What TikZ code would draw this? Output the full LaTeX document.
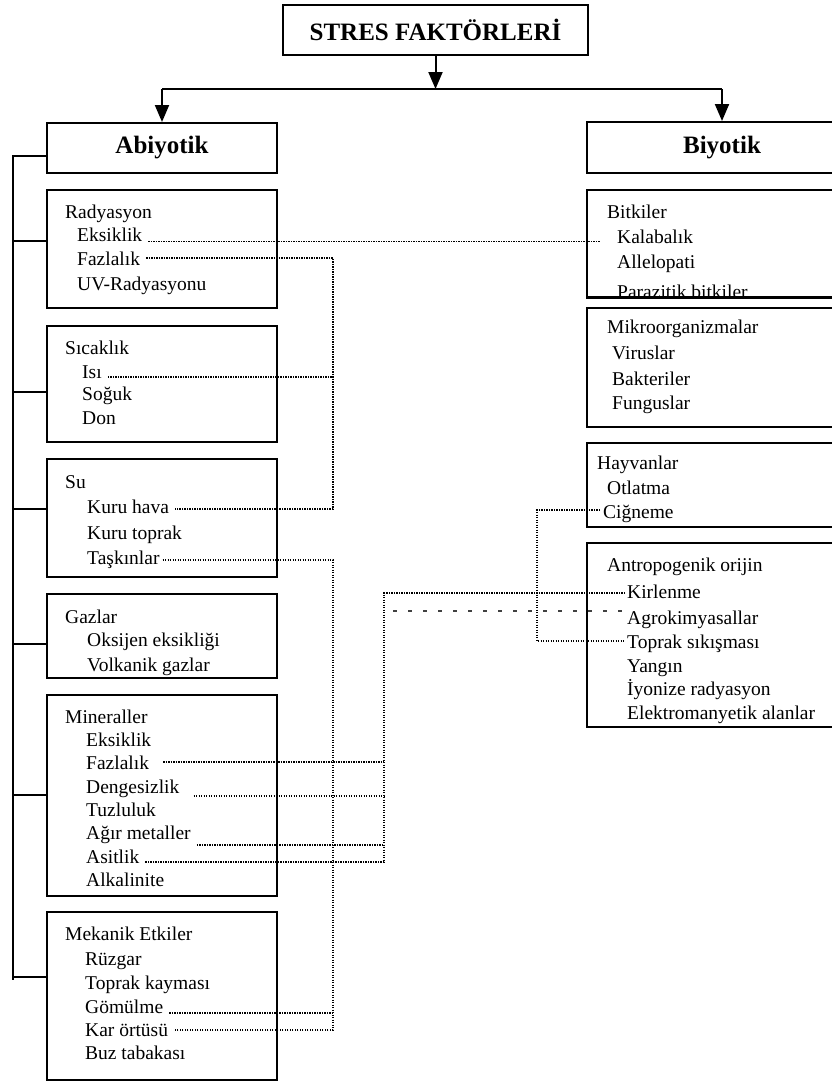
\documentclass[tikz,border=0pt]{standalone}
\usepackage{fontspec}
\setmainfont{Liberation Serif}
\usetikzlibrary{arrows.meta,calc}
\begin{document}
\begin{tikzpicture}[x=1pt,y=-1pt,
 box/.style={draw, line width=2pt, inner sep=0pt},
 txt/.style={anchor=base west, inner sep=0pt, font=\fontsize{19.5}{22}\selectfont},
 head/.style={font=\bfseries\fontsize{25}{30}\selectfont},
 dotl/.style={line width=1.5pt, dash pattern=on 1.3pt off 1.2pt},
 dashl/.style={line width=1.2pt, black!75, dash pattern=on 4pt off 11pt},
 conn/.style={line width=2pt},
 arr/.style={conn, -{Triangle[length=17pt,width=14pt]}}
]
\useasboundingbox (0,0) rectangle (832,1081);
\clip (0,0) rectangle (832,1081);
\fill[white] (0,0) rectangle (832,1081);

% head boxes
\node[box, head, minimum width=305pt, minimum height=50pt] (t) at (435.5,30) {STRES FAKTÖRLERİ};
\node[box, head, minimum width=230pt, minimum height=50pt] (a) at (162,148) {Abiyotik};
\node[box, head, minimum width=270pt, minimum height=51pt] (b) at (722,147.5) {Biyotik};

% left boxes
\node[box, minimum width=230pt, minimum height=118pt] (rad) at (162,249) {};
\node[box, minimum width=230pt, minimum height=116pt] (sic) at (162,384) {};
\node[box, minimum width=230pt, minimum height=118pt] (su) at (162,518) {};
\node[box, minimum width=230pt, minimum height=84pt] (gaz) at (162,636) {};
\node[box, minimum width=230pt, minimum height=201pt] (min) at (162,795.5) {};
\node[box, minimum width=230pt, minimum height=168pt] (mek) at (162,996) {};

% right boxes
\node[box, minimum width=270pt, minimum height=107pt] (bit) at (722,243.5) {};
\node[box, minimum width=270pt, minimum height=119pt] (mik) at (722,367.5) {};
\node[box, minimum width=270pt, minimum height=84pt] (hay) at (722,485) {};
\node[box, minimum width=270pt, minimum height=184pt] (ant) at (722,635) {};

% texts left
\node[txt] (r0) at (65,218) {Radyasyon};
\node[txt] (r1) at (77,241) {Eksiklik};
\node[txt] (r2) at (77,265) {Fazlalık};
\node[txt] (r3) at (77,290) {UV-Radyasyonu};

\node[txt] (s0) at (65,354) {Sıcaklık};
\node[txt] (s1) at (82,378) {Isı};
\node[txt] (s2) at (82,400) {Soğuk};
\node[txt] (s3) at (82,424) {Don};

\node[txt] (u0) at (65,488) {Su};
\node[txt] (u1) at (87,513) {Kuru hava};
\node[txt] (u2) at (87,539) {Kuru toprak};
\node[txt] (u3) at (87,564) {Taşkınlar};

\node[txt] (g0) at (65,623) {Gazlar};
\node[txt] (g1) at (87,646) {Oksijen eksikliği};
\node[txt] (g2) at (87,671) {Volkanik gazlar};

\node[txt] (m0) at (65,723) {Mineraller};
\node[txt] (m1) at (86,746) {Eksiklik};
\node[txt] (m2) at (86,769) {Fazlalık};
\node[txt] (m3) at (86,793) {Dengesizlik};
\node[txt] (m4) at (86,816) {Tuzluluk};
\node[txt] (m5) at (86,839) {Ağır metaller};
\node[txt] (m6) at (86,863) {Asitlik};
\node[txt] (m7) at (86,886) {Alkalinite};

\node[txt] (k0) at (65,940) {Mekanik Etkiler};
\node[txt] (k1) at (85,965) {Rüzgar};
\node[txt] (k2) at (85,989) {Toprak kayması};
\node[txt] (k3) at (85,1013) {Gömülme};
\node[txt] (k4) at (85,1036) {Kar örtüsü};
\node[txt] (k5) at (85,1059) {Buz tabakası};

% texts right
\node[txt] (b0) at (607,218) {Bitkiler};
\node[txt] (b1) at (617,243) {Kalabalık};
\node[txt] (b2) at (617,268) {Allelopati};
\node[txt] (b3) at (617,298) {Parazitik bitkiler};

\node[txt] (i0) at (607,333) {Mikroorganizmalar};
\node[txt] (i1) at (612,359) {Viruslar};
\node[txt] (i2) at (612,385) {Bakteriler};
\node[txt] (i3) at (612,409) {Funguslar};

\node[txt] (h0) at (597,469) {Hayvanlar};
\node[txt] (h1) at (607,494) {Otlatma};
\node[txt] (h2) at (603,518) {Ciğneme};

\node[txt] (n0) at (607,571) {Antropogenik orijin};
\node[txt] (n1) at (627,598) {Kirlenme};
\node[txt] (n2) at (627,624) {Agrokimyasallar};
\node[txt] (n3) at (627,648) {Toprak sıkışması};
\node[txt] (n4) at (627,672) {Yangın};
\node[txt] (n5) at (627,695) {İyonize radyasyon};
\node[txt] (n6) at (627,719) {Elektromanyetik alanlar};

% text of Bitkiler is cut by its bottom border
\fill[white] (bit.south west) rectangle ([yshift=-9pt]bit.south east);
\draw[line width=2pt] (bit.south west) -- (bit.south east);

% top connectors
\coordinate (h) at (0,89);
\draw[arr] (t.south) -- (t.south |- h);
\draw[conn] (a.north |- h) -- (b.north |- h);
\draw[arr] (a.north |- h) -- (a.north);
\draw[arr] (b.north |- h) -- (b.north);

% left bus
\coordinate (bt) at (13,156);
\coordinate (bb) at (13,980);
\draw[conn] (a.west |- bt) -- (bt) -- (bb);
\foreach \n/\yy in {rad/241, sic/392, su/509, gaz/644, min/795, mek/977}
  \draw[conn] (13,\yy) -- (\n.west |- 0,\yy);

% dotted connectors
\draw[dotl] ([xshift=6pt]r1.east |- 0,241.5) -- ([xshift=-17pt]b1.west |- 0,241.5);
\draw[dotl] ([xshift=6pt]r2.east |- 0,258) -- (333,258) -- (333,509) -- ([xshift=6pt]u1.east |- 0,509);
\draw[dotl] ([xshift=6pt]s1.east |- 0,377) -- (333,377);
\draw[dotl] ([xshift=3pt]u3.east |- 0,560) -- (333,560) -- (333,1030) -- ([xshift=6pt]k4.east |- 0,1030);
\draw[dotl] ([xshift=6pt]k3.east |- 0,1013) -- (333,1013);
\draw[dotl] ([xshift=-2pt]n1.west |- 0,593) -- (384,593) -- (384,862) -- ([xshift=6pt]m6.east |- 0,862);
\draw[dotl] ([xshift=14pt]m2.east |- 0,762) -- (384,762);
\draw[dotl] ([xshift=14pt]m3.east |- 0,796) -- (384,796);
\draw[dotl] ([xshift=6pt]m5.east |- 0,845) -- (384,845);
\draw[dashl] (393,611) -- ([xshift=-5pt]n2.west |- 0,611);
\draw[dotl] ([xshift=-3pt]h2.west |- 0,510) -- (537,510) -- (537,641) -- ([xshift=-2pt]n3.west |- 0,641);
\end{tikzpicture}
\end{document}
